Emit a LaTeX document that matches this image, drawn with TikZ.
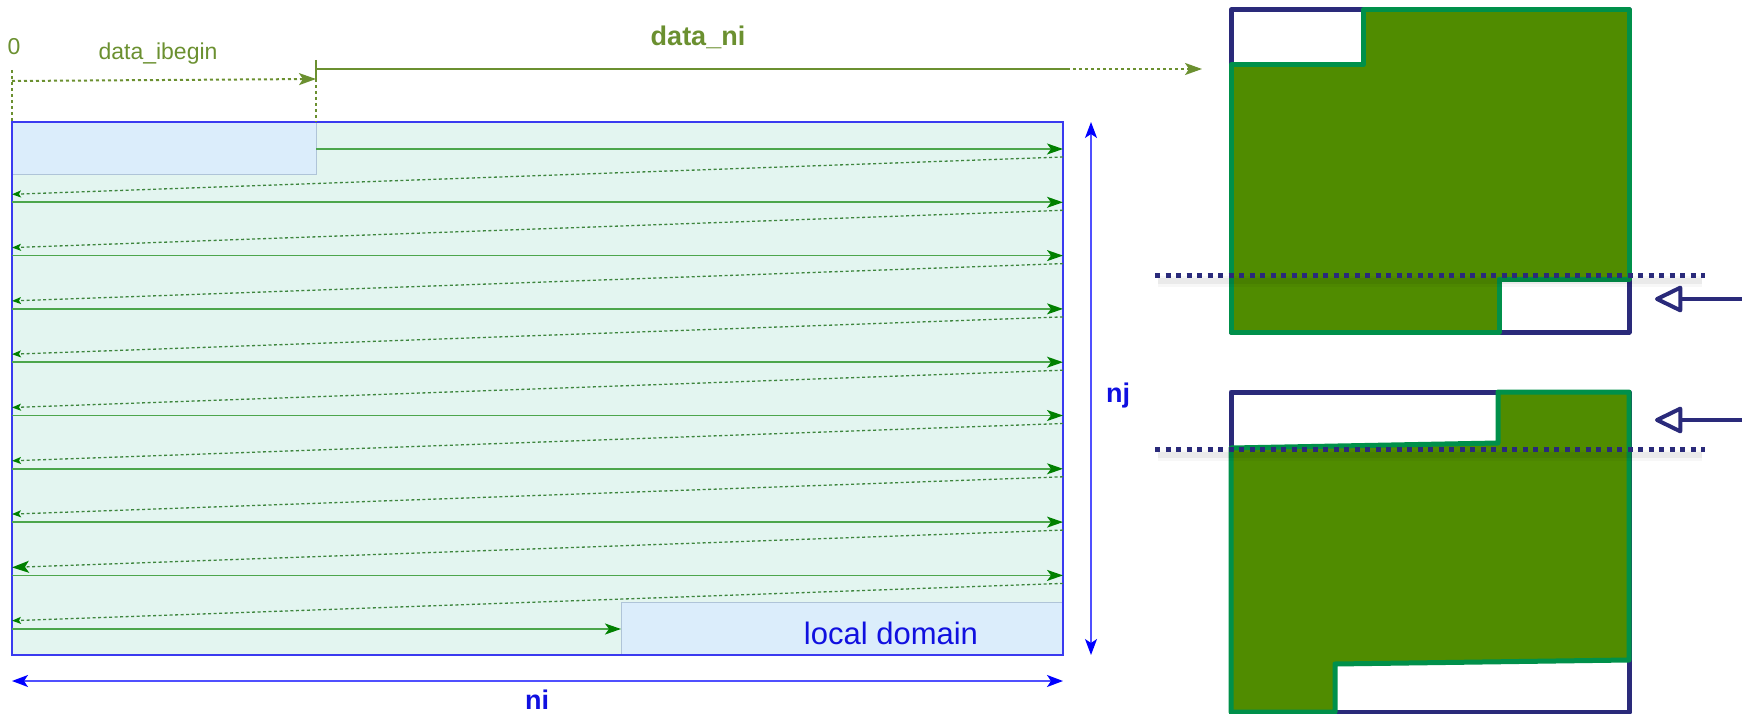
\documentclass[tikz,border=0pt]{standalone}
\usepackage{fontspec}
\setmainfont{Liberation Sans}
\usetikzlibrary{arrows.meta}
\definecolor{mint}{HTML}{E3F5F0}
\definecolor{rectblue}{HTML}{3A3AF0}
\definecolor{boxfill}{HTML}{DBEDFB}
\definecolor{boxline}{HTML}{AFC4D8}
\definecolor{rowgreen}{HTML}{4CA64C}
\definecolor{tipgreen}{HTML}{008000}
\definecolor{olivec}{HTML}{6B9030}
\definecolor{navy}{HTML}{2A2A7A}
\definecolor{leaf}{HTML}{508C00}
\definecolor{edgegreen}{HTML}{00904A}
\definecolor{dimline}{HTML}{5050FF}
\definecolor{textblue}{HTML}{1010E0}
\tikzset{
  rowline/.style={draw=rowgreen, line width=1.6pt, -{Stealth[length=16pt,width=11pt,inset=4pt,color=tipgreen]}},
  retline/.style={draw=rowgreen!80!black, line width=1.3pt, dash pattern=on 3pt off 2.5pt, -{Stealth[length=9pt,width=7pt,inset=2pt,color=tipgreen]}},
  bigret/.style={-{Stealth[length=17pt,width=12pt,inset=4pt,color=tipgreen]}},
  dimarrow/.style={draw=dimline, line width=1.5pt, {Stealth[length=16pt,width=12pt,inset=4pt,color=blue]}-{Stealth[length=16pt,width=12pt,inset=4pt,color=blue]}},
  olivedot/.style={draw=olivec, line width=2pt, dash pattern=on 3pt off 3pt},
  olivetip/.style={-{Stealth[length=17pt,width=12pt,inset=4pt,color=olivec]}},
  lbl/.style={text=olivec, font=\fontsize{23}{27}\selectfont, inner sep=0pt},
  boldlbl/.style={font=\fontsize{27}{31}\selectfont\bfseries, inner sep=0pt},
  lightbox/.style={fill=boxfill, draw=boxline, line width=1pt},
  navyline/.style={draw=navy, line width=5pt, line join=round},
  greenpart/.style={fill=leaf, draw=edgegreen, line width=5pt, line join=round},
  navydots/.style={draw=navy, line width=5pt, dash pattern=on 5pt off 5.5pt},
  shadowline/.style={draw=black, opacity=0.05, line width=6pt},
  openarrow/.style={draw=navy, line width=4pt, -{Triangle[open,length=30pt,width=28pt,line join=round]}}
}
\begin{document}
\begin{tikzpicture}[x=1pt,y=-1pt]
\useasboundingbox (0,0) rectangle (1742,714);
% ---------- main domain ----------
\fill[mint] (12,122) rectangle (1063,655);
\draw[lightbox] (12,122) rectangle (316,175);
\draw[lightbox] (621,602) rectangle (1063,655);
\draw[draw=rectblue, line width=1.5pt] (12,122) rectangle (1063,655);
\node[text=textblue, font=\fontsize{31}{35}\selectfont, inner sep=0pt] (ld) at (891,633) {local domain};
% rows
\foreach \k in {0,...,8}{
  \pgfmathsetmacro{\ya}{149+53.3*\k}
  \pgfmathsetmacro{\yb}{\ya+53.3}
  \pgfmathsetmacro{\xs}{\k==0 ? 316 : 12}
  \coordinate (s\k) at (\xs,\ya);
  \coordinate (e\k) at (1063,\ya);
  \coordinate (r\k) at (1063,\ya+8);
  \coordinate (l\k) at (12,\yb-8);
  \draw[rowline] (s\k) -- (e\k);
  \ifnum\k=7 \draw[retline,bigret] (r\k) -- (l\k); \else \draw[retline] (r\k) -- (l\k); \fi
}
\coordinate (s9) at (12,629);
\coordinate (e9) at (621,629);
\draw[rowline] (s9) -- (e9);
% ---------- top annotations ----------
\node[lbl] (zero) at (14,47) {0};
\node[lbl] (dib) at (158,54) {data\_ibegin};
\node[boldlbl, text=olivec] (dni) at (698,37) {data\_ni};
\coordinate (v0t) at (12,70);
\coordinate (v0b) at (12,122);
\coordinate (v1t) at (316,79);
\coordinate (v1b) at (316,122);
\draw[olivedot] (v0t) -- (v0b);
\draw[olivedot] (v1t) -- (v1b);
\coordinate (hb0) at (12,81);
\coordinate (hb1) at (316,79);
\draw[olivedot, olivetip] (hb0) -- (hb1);
\coordinate (tk0) at (316,60);
\coordinate (tk1) at (316,80);
\draw[draw=olivec, line width=2pt] (tk0) -- (tk1);
\coordinate (n0) at (316,69);
\coordinate (n1) at (1067,69);
\coordinate (n2) at (1202,69);
\draw[draw=olivec, line width=2.2pt] (n0) -- (n1);
\draw[olivedot, olivetip] (n1) -- (n2);
% ---------- dimension arrows ----------
\coordinate (nj0) at (1091,122);
\coordinate (nj1) at (1091,655);
\draw[dimarrow] (nj0) -- (nj1);
\node[boldlbl, text=textblue] (nj) at (1118,396) {nj};
\coordinate (ni0) at (12,681);
\coordinate (ni1) at (1063,681);
\draw[dimarrow] (ni0) -- (ni1);
\node[boldlbl, text=textblue] (ni) at (537,700) {ni};
% ---------- right: top figure ----------
\draw[navyline] (1231,10) rectangle (1629,332);
\draw[greenpart] (1363,10) -- (1629,10) -- (1629,279) -- (1499,279) -- (1499,332) -- (1231,332) -- (1231,65) -- (1363,65) -- cycle;
\draw[shadowline] (1158,281) -- (1702,281);
\draw[shadowline, opacity=0.03, line width=11pt] (1158,281) -- (1702,281);
\draw[navydots] (1155,275) -- (1705,275);
\coordinate (a1s) at (1742,299);
\coordinate (a1e) at (1655,299);
\draw[openarrow] (a1s) -- (a1e);
% ---------- right: bottom figure ----------
\draw[navyline] (1231,392) rectangle (1629,712);
\draw[greenpart] (1498,392) -- (1629,392) -- (1629,660) -- (1335,664) -- (1335,712) -- (1231,712) -- (1231,448) -- (1498,443) -- cycle;
\draw[shadowline] (1158,455) -- (1702,455);
\draw[shadowline, opacity=0.03, line width=11pt] (1158,455) -- (1702,455);
\draw[navydots] (1155,449) -- (1705,449);
\coordinate (a2s) at (1742,420);
\coordinate (a2e) at (1655,420);
\draw[openarrow] (a2s) -- (a2e);
\end{tikzpicture}
\end{document}
